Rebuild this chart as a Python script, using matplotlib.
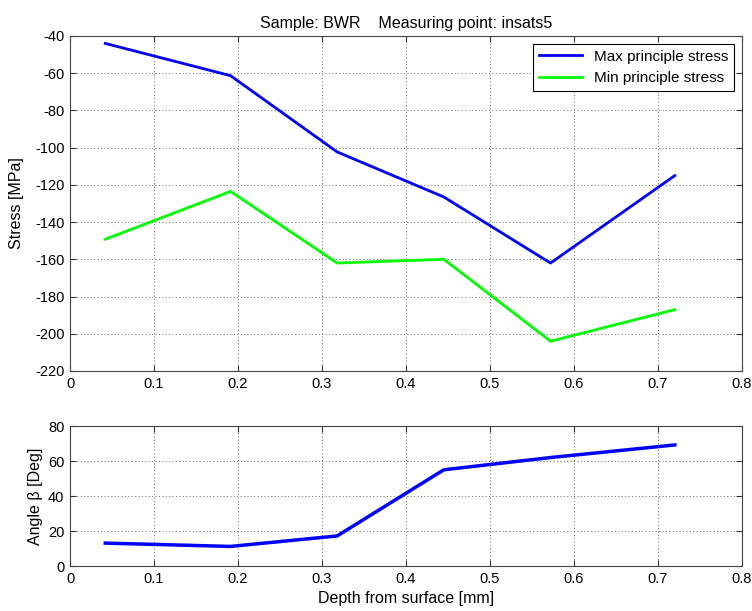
import matplotlib
matplotlib.use("Agg")
import matplotlib.pyplot as plt

depth = [0.042, 0.191, 0.318, 0.445, 0.572, 0.72]
max_stress = [-44, -61.3, -102.3, -126.5, -162, -115]
min_stress = [-149.2, -123.5, -162, -160, -204, -187]
angle = [13.1, 11.2, 17.2, 55.0, 62.0, 69.2]

plt.rcParams['font.family'] = ['Liberation Sans', 'DejaVu Sans']
plt.rcParams['font.size'] = 10.5
plt.rcParams['axes.unicode_minus'] = False

fig = plt.figure(figsize=(7.52, 6.11), dpi=100)
ax1 = fig.add_axes([0.0931, 0.3928, 0.8936, 0.5483])
ax2 = fig.add_axes([0.0931, 0.0736, 0.8936, 0.2291])

ax1.plot(depth, max_stress, color='#0000ff', lw=2, label='Max principle stress')
ax1.plot(depth, min_stress, color='#00ff00', lw=2, label='Min principle stress')
ax1.set_xlim(0, 0.8)
ax1.set_ylim(-220, -40)
ax1.set_yticks(range(-220, -39, 20))
ax1.set_xticks([i / 10 for i in range(9)])
ax1.set_xticklabels(['0', '0.1', '0.2', '0.3', '0.4', '0.5', '0.6', '0.7', '0.8'])
ax1.set_ylabel('Stress [MPa]', fontsize=11.5, labelpad=8)
ax1.set_title('Sample: BWR    Measuring point: insats5', fontsize=11.5, pad=6)
leg = ax1.legend(loc='upper right', fancybox=False, framealpha=1, edgecolor='black',
                 handlelength=2.8, borderaxespad=0.5, fontsize=11)
leg.get_frame().set_linewidth(0.8)

ax2.plot(depth, angle, color='#0000ff', lw=2.5)
ax2.set_xlim(0, 0.8)
ax2.set_ylim(0, 80)
ax2.set_yticks([0, 20, 40, 60, 80])
ax2.set_xticks([i / 10 for i in range(9)])
ax2.set_xticklabels(['0', '0.1', '0.2', '0.3', '0.4', '0.5', '0.6', '0.7', '0.8'])
ax2.set_ylabel('Angle β [Deg]', fontsize=11.5)
ax2.set_xlabel('Depth from surface [mm]', fontsize=11.5)

for ax in (ax1, ax2):
    ax.grid(True, linestyle=(0, (1, 2.5)), color='#666666', lw=0.7)
    ax.tick_params(direction='in', top=True, right=True, length=4, color='#333333', pad=4)
    for s in ax.spines.values():
        s.set_color('#444444')
        s.set_linewidth(0.8)

fig.savefig('out.png', dpi=100)
